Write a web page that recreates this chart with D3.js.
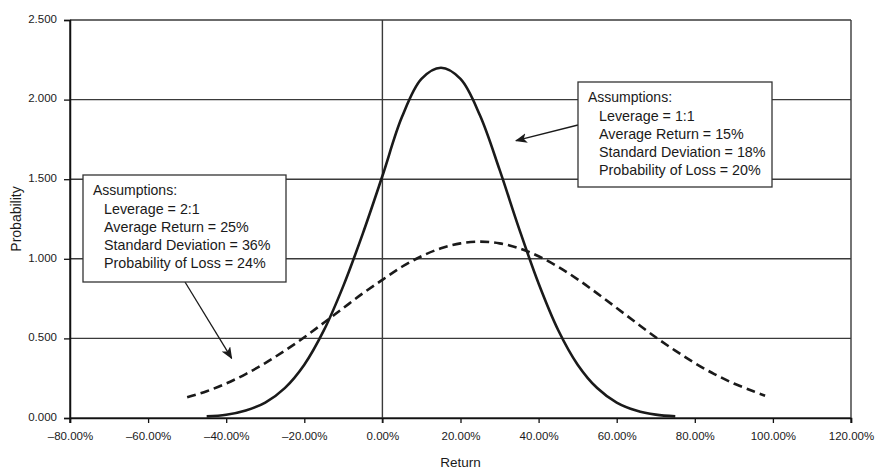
<!DOCTYPE html>
<html>
<head>
    <meta charset="utf-8">
    <style>
        html, body { padding: 0; margin: 0; background: #fff; }
        svg text { font-family: "Liberation Sans", Arial, sans-serif; fill: #1a1a1a; }
    </style>
</head>
<body>
    <div id="chart"></div>
    <script src="https://cdn.jsdelivr.net/npm/d3@7/dist/d3.min.js"></script>
    <script>
        // Axis ticks
        const xTicks = [-80, -60, -40, -20, 0, 20, 40, 60, 80, 100, 120];
        const xTickLabels = ["\u201380.00%", "\u201360.00%", "\u201340.00%", "\u201320.00%", "0.00%",
            "20.00%", "40.00%", "60.00%", "80.00%", "100.00%", "120.00%"];
        const yTicks = [0, 0.5, 1, 1.5, 2, 2.5];
        const yTickLabels = ["0.000", "0.500", "1.000", "1.500", "2.000", "2.500"];

        // Leverage 1:1 (solid)
        const solidReturns = [-45, -40, -35, -30, -25, -20, -15, -10, -5, 0, 5, 10, 15,
            20, 25, 30, 35, 40, 45, 50, 55, 60, 65, 70, 75];
        const solidProb = [0.01, 0.02, 0.047, 0.097, 0.188, 0.335, 0.55, 0.83, 1.16, 1.52, 1.89, 2.13, 2.20,
            2.13, 1.90, 1.56, 1.19, 0.845, 0.553, 0.335, 0.188, 0.097, 0.047, 0.021, 0.01];

        // Leverage 2:1 (dashed)
        const dashedReturns = [-50, -45, -40, -35, -30, -25, -20, -15, -10, -5, 0, 5, 10, 15, 20, 25,
            30, 35, 40, 45, 50, 55, 60, 65, 70, 75, 80, 85, 90, 95, 98];
        const dashedProb = [0.13, 0.168, 0.217, 0.276, 0.345, 0.423, 0.507, 0.598, 0.691, 0.783, 0.868, 0.95,
            1.016, 1.066, 1.097, 1.108, 1.097, 1.066, 1.016, 0.95, 0.871, 0.783, 0.691, 0.598, 0.507,
            0.423, 0.345, 0.276, 0.217, 0.168, 0.14];

        const notes = [
            { lines: ["Leverage = 1:1", "Average Return = 15%", "Standard Deviation = 18%", "Probability of Loss = 20%"],
              box: [578, 82, 194, 105], from: [578, 125], tip: [34.2, 1.742] },
            { lines: ["Leverage = 2:1", "Average Return = 25%", "Standard Deviation = 36%", "Probability of Loss = 24%"],
              box: [83, 175, 203, 107], from: [185, 282], tip: [-38.6, 0.375] }
        ];

        const width = 877;
        const height = 470;
        const margin = { top: 20, right: 26, bottom: 52, left: 70 };

        const svg = d3.select('#chart').append('svg')
            .attr('width', width)
            .attr('height', height);

        const x = d3.scaleLinear().domain([-80, 120]).range([margin.left, width - margin.right]);
        const y = d3.scaleLinear().domain([0, 2.5]).range([height - margin.bottom, margin.top]);

        // Horizontal gridlines
        svg.append('g')
            .selectAll('line')
            .data(yTicks)
            .join('line')
            .attr('x1', margin.left).attr('x2', width - margin.right)
            .attr('y1', d => y(d)).attr('y2', d => y(d))
            .attr('stroke', '#3a3a3a')
            .attr('stroke-width', 1.4);

        // Vertical lines: left axis, zero line, right border (they carry ticks below)
        svg.append('g')
            .selectAll('line')
            .data([-80, 0, 120])
            .join('line')
            .attr('x1', d => x(d)).attr('x2', d => x(d))
            .attr('y1', y(2.5)).attr('y2', y(0) + 5)
            .attr('stroke', d => d === -80 ? '#111' : '#3a3a3a')
            .attr('stroke-width', 1.4);

        // X axis
        const xAxis = svg.append('g')
            .attr('transform', `translate(0,${y(0)})`)
            .call(d3.axisBottom(x).tickValues(xTicks).tickSize(5).tickPadding(9)
                .tickFormat((d, i) => xTickLabels[i]));
        xAxis.select('.domain').attr('stroke', '#111').attr('stroke-width', 1.5);
        xAxis.selectAll('.tick line').attr('stroke', '#111').attr('stroke-width', 1.3);
        xAxis.selectAll('.tick text').style('font-size', '11.5px').attr('fill', '#1a1a1a');

        // Y axis
        const yAxis = svg.append('g')
            .attr('transform', `translate(${margin.left},0)`)
            .call(d3.axisLeft(y).tickValues(yTicks).tickSize(6).tickPadding(7)
                .tickFormat((d, i) => yTickLabels[i]));
        yAxis.select('.domain').attr('stroke', '#111').attr('stroke-width', 1.5);
        yAxis.selectAll('.tick line').attr('stroke', '#111').attr('stroke-width', 1.3);
        yAxis.selectAll('.tick text').style('font-size', '11.5px').attr('fill', '#1a1a1a').attr('dy', '0.2em');

        // Axis titles
        svg.append('text')
            .attr('x', (margin.left + width - margin.right) / 2)
            .attr('y', 467)
            .attr('text-anchor', 'middle')
            .style('font-size', '13.5px')
            .text('Return');

        svg.append('text')
            .attr('transform', `translate(21,${(margin.top + height - margin.bottom) / 2}) rotate(-90)`)
            .attr('text-anchor', 'middle')
            .style('font-size', '14px')
            .text('Probability');

        // Curves
        const line = d3.line()
            .x(d => x(d[0]))
            .y(d => y(d[1]))
            .curve(d3.curveCatmullRom.alpha(0.5));

        svg.append('path')
            .datum(dashedReturns.map((r, i) => [r, dashedProb[i]]))
            .attr('d', line)
            .attr('fill', 'none')
            .attr('stroke', '#1a1a1a')
            .attr('stroke-width', 2.6)
            .attr('stroke-dasharray', '9,5');

        svg.append('path')
            .datum(solidReturns.map((r, i) => [r, solidProb[i]]))
            .attr('d', line)
            .attr('fill', 'none')
            .attr('stroke', '#1a1a1a')
            .attr('stroke-width', 2.6);

        // Arrow head
        svg.append('defs').append('marker')
            .attr('id', 'arrow')
            .attr('viewBox', '0 0 12 10')
            .attr('refX', 11).attr('refY', 5)
            .attr('markerWidth', 12).attr('markerHeight', 10)
            .attr('markerUnits', 'userSpaceOnUse')
            .attr('orient', 'auto')
            .append('path')
            .attr('d', 'M0,0 L12,5 L0,10 L3,5 Z')
            .attr('fill', '#1a1a1a');

        // Annotation boxes
        notes.forEach(n => {
            const [bx, by, bw, bh] = n.box;
            svg.append('line')
                .attr('x1', n.from[0]).attr('y1', n.from[1])
                .attr('x2', x(n.tip[0])).attr('y2', y(n.tip[1]))
                .attr('stroke', '#1a1a1a')
                .attr('stroke-width', 1.3)
                .attr('marker-end', 'url(#arrow)');

            const g = svg.append('g');
            g.append('rect')
                .attr('x', bx).attr('y', by)
                .attr('width', bw).attr('height', bh)
                .attr('fill', '#fff')
                .attr('stroke', '#333')
                .attr('stroke-width', 1.3);
            g.append('text')
                .attr('x', bx + 10).attr('y', by + 20)
                .style('font-size', '14px')
                .text('Assumptions:');
            g.selectAll('text.item')
                .data(n.lines)
                .join('text')
                .attr('class', 'item')
                .attr('x', bx + 21)
                .attr('y', (d, i) => by + 38.5 + i * 18.2)
                .style('font-size', '14.3px')
                .text(d => d);
        });
    </script>
</body>
</html>
